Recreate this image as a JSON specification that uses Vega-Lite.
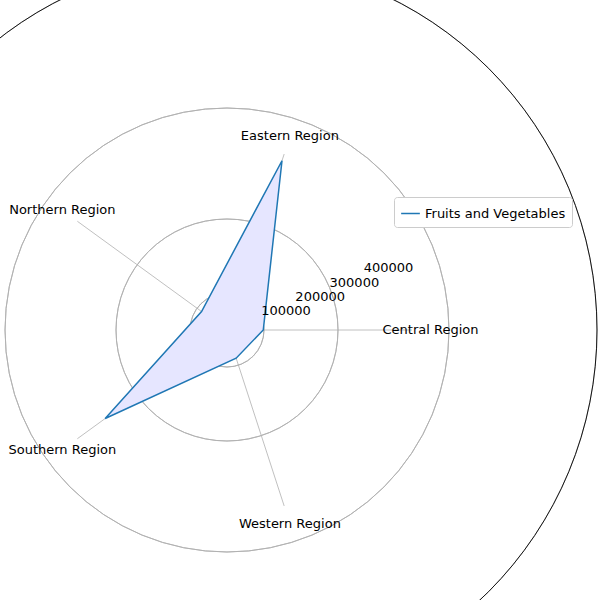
{
"$schema":"https://vega.github.io/schema/vega-lite/v6.json",
"autosize":{"type":"none"},
"width":370,"height":370,
"padding":{"left":42,"top":145,"right":188,"bottom":85},
"title":{"text":"Fruits and Vegetables 2011-2017","anchor":"start","dx":-22,"offset":38,"fontSize":22,"fontWeight":"normal","font":"DejaVu Sans","color":"black"},
"config":{"view":{"stroke":null},"font":"DejaVu Sans"},
"datasets":{
"pts":[
{"region":"Central Region","i":0,"value":98000,"series":"Fruits and Vegetables"},
{"region":"Eastern Region","i":1,"value":481000,"series":"Fruits and Vegetables"},
{"region":"Northern Region","i":2,"value":85000,"series":"Fruits and Vegetables"},
{"region":"Southern Region","i":3,"value":407000,"series":"Fruits and Vegetables"},
{"region":"Western Region","i":4,"value":80000,"series":"Fruits and Vegetables"}],
"grid":[{"r":100000,"ring":"grid"},{"r":200000,"ring":"grid"},{"r":300000,"ring":"grid"},{"r":400000,"ring":"grid"},{"r":500000,"ring":"outer"}],
"ticks":[{"r":100000},{"r":200000},{"r":300000},{"r":400000}]
},
"layer":[
{"data":{"name":"grid"},"mark":{"type":"arc","theta":0,"theta2":6.2832,"fill":null,"filled":false,"strokeWidth":0.9},
 "encoding":{"radius":{"field":"r","type":"quantitative","scale":{"type":"linear","zero":true,"nice":false,"domain":[0,500000],"range":[0,185]}},
  "stroke":{"field":"ring","type":"nominal","scale":{"domain":["grid","outer"],"range":["#b0b0b0","black"]},"legend":null}}},
{"data":{"name":"pts"},
 "transform":[{"calculate":"datum.i*2*PI/5","as":"a"},{"calculate":"0","as":"x0"},{"calculate":"500000*cos(datum.a)","as":"x1"},{"calculate":"500000*sin(datum.a)","as":"y1"}],
 "mark":{"type":"rule","stroke":"#b0b0b0","strokeWidth":0.8},
 "encoding":{"x":{"field":"x0","type":"quantitative","scale":{"domain":[-500000,500000],"nice":false},"axis":null},"y":{"field":"x0","type":"quantitative","scale":{"domain":[-500000,500000],"nice":false},"axis":null},
  "x2":{"field":"x1"},"y2":{"field":"y1"}}},
{"data":{"name":"pts"},
 "transform":[{"calculate":"datum.i*2*PI/5","as":"a"},{"calculate":"datum.value*cos(datum.a)","as":"x"},{"calculate":"datum.value*sin(datum.a)","as":"y"}],
 "mark":{"type":"line","interpolate":"linear-closed","fill":"#e6e6ff","strokeWidth":1.5},
 "encoding":{"x":{"field":"x","type":"quantitative"},"y":{"field":"y","type":"quantitative"},
  "order":{"field":"i"},
  "color":{"field":"series","type":"nominal","scale":{"range":["#1f77b4"]},"legend":{"title":null,"orient":"none","legendX":352,"legendY":52,"symbolType":"stroke","symbolSize":350,"symbolStrokeWidth":1.5,"labelFontSize":13,"labelColor":"black","strokeColor":"#cccccc","padding":6,"cornerRadius":3,"fillColor":"white"}}}},
{"data":{"name":"pts"},
 "transform":[{"calculate":"datum.i*2*PI/5","as":"a"},{"calculate":"550000*cos(datum.a)","as":"x"},{"calculate":"550000*sin(datum.a)","as":"y"}],
 "mark":{"type":"text","fontSize":13,"align":"center","baseline":"middle","color":"black"},
 "encoding":{"x":{"field":"x","type":"quantitative"},"y":{"field":"y","type":"quantitative"},"text":{"field":"region"}}},
{"data":{"name":"ticks"},
 "transform":[{"calculate":"datum.r*cos(PI/8)","as":"x"},{"calculate":"datum.r*sin(PI/8)","as":"y"}],
 "mark":{"type":"text","fontSize":13,"align":"left","baseline":"bottom","color":"black","dy":2},
 "encoding":{"x":{"field":"x","type":"quantitative"},"y":{"field":"y","type":"quantitative"},"text":{"field":"r","type":"quantitative","format":"d"}}}
]
}
